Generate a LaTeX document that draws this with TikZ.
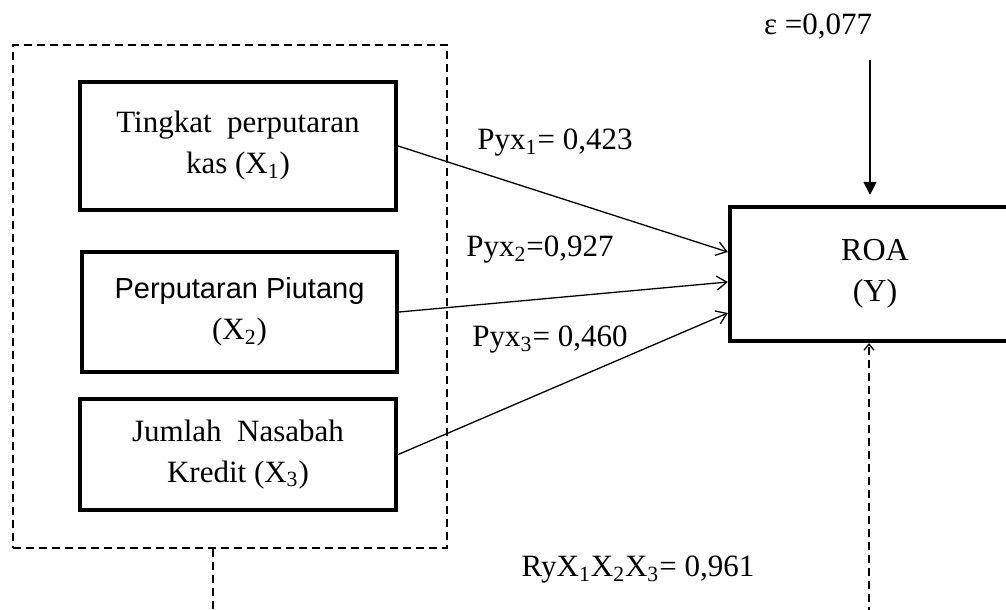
\documentclass[tikz,border=0pt]{standalone}
\usepackage{fontspec}
\setmainfont{Liberation Serif}
\newfontfamily\sansf{Liberation Sans}
\usetikzlibrary{arrows.meta}
\begin{document}
\begin{tikzpicture}[x=0.5pt,y=-0.5pt,
  varbox/.style={draw,line width=2.2pt,align=center,inner sep=0pt,font=\fontsize{15.5}{20.5}\selectfont},
  lbl/.style={font=\fontsize{15.5}{17}\selectfont,inner sep=0pt},
  pline/.style={line width=0.65pt,-{Straight Barb[length=5pt,width=7pt]}},
  dline/.style={line width=0.65pt,dash pattern=on 4pt off 2.5pt}]
\useasboundingbox (0,0) rectangle (1006,610);
\clip (0,0) rectangle (1006,610);
\node[dline,draw,minimum width=217pt,minimum height=251.5pt] (grp) at (230,296.5) {};
\node[varbox,minimum width=158pt,minimum height=64pt] (x1) at (238,146) {Tingkat\ \ perputaran\\kas (X\textsubscript{1})};
\node[varbox,minimum width=157.5pt,minimum height=60pt] (x2) at (239.5,312) {{\sansf\fontsize{14.5}{20.5}\selectfont Perputaran Piutang}\\(X\textsubscript{2})};
\node[varbox,minimum width=158pt,minimum height=55.5pt] (x3) at (238,454.5) {Jumlah\ \ Nasabah\\Kredit (X\textsubscript{3})};
\node[varbox,minimum width=145pt,minimum height=67pt,font=\fontsize{16}{20.5}\selectfont] (roa) at (875,274) {ROA\\(Y)};
\node[lbl] (l1) at (555,143) {Pyx\textsubscript{1}= 0,423};
\node[lbl] (l2) at (540,250) {Pyx\textsubscript{2}=0,927};
\node[lbl] (l3) at (550,340) {Pyx\textsubscript{3}= 0,460};
\node[lbl] (lr) at (638,570) {RyX\textsubscript{1}X\textsubscript{2}X\textsubscript{3}= 0,961};
\node[lbl] (eps) at (818,27) {ε =0,077};
\draw[pline] (x1.east) -- ([yshift=11pt]roa.west);
\draw[pline] (x2.east) -- ([yshift=-4pt]roa.west);
\draw[pline] (x3.east) -- ([yshift=-19.5pt]roa.west);
\coordinate (es) at (870,60);
\draw[line width=0.8pt,-{Triangle[length=6.5pt,width=6.5pt]}] (es) -- ([yshift=5pt]roa.north -| es);
\coordinate (gb) at (213,615);
\draw[dline] (grp.south -| gb) -- (gb);
\coordinate (rb) at (869,615);
\draw[dline,-{Straight Barb[length=3pt,width=5pt]}] (rb) -- (roa.south -| rb);
\end{tikzpicture}
\end{document}
